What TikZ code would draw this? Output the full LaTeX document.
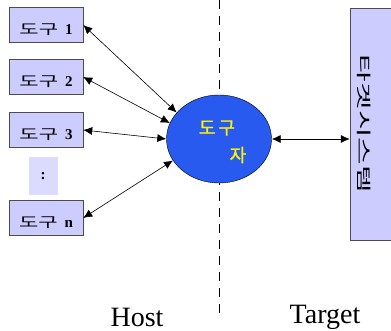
\documentclass[tikz,border=0pt]{standalone}
\usepackage{fontspec}
\usepackage{graphicx}
\setmainfont{Liberation Serif}
\newfontfamily\kor{Noto Sans CJK KR}
\newfontfamily\korbold{Noto Sans CJK KR}[FakeBold=1.2]
\usetikzlibrary{shapes.geometric,arrows.meta}

\definecolor{boxfill}{RGB}{204,204,255}
\definecolor{mgrblue}{RGB}{40,90,240}
\tikzset{
	toolbox/.style={draw=black!70,fill=boxfill,minimum width=74pt,minimum height=35pt,inner sep=0pt,text height=20pt,text depth=0pt},
	link/.style={{Latex[length=9pt,width=8pt]}-{Latex[length=9pt,width=8pt]},semithick}
}
\newcommand{\tooltxt}[1]{\scalebox{1.5}[1]{\kor\fontsize{14}{14}\selectfont 도구}\hspace{7pt}\textbf{\fontsize{15}{15}\selectfont\rmfamily #1}}

\begin{document}
\begin{tikzpicture}[x=1pt,y=-1pt]
		\useasboundingbox (0,0) rectangle (391,331);
		\draw [thick,dash pattern=on 9pt off 7pt] (219,0) -- (219,316);
		\node[toolbox] (t1) at (46,25) {\tooltxt{1}};
		\node[toolbox] (t2) at (46,77) {\tooltxt{2}};
		\node[toolbox] (t3) at (46,130) {\tooltxt{3}};
		\node[fill=boxfill!70,minimum width=29pt,minimum height=38pt,inner sep=0pt] (dots) at (43,176) {\textbf{\fontsize{15}{15}\selectfont :}};
		\node[toolbox] (tn) at (46,218) {\tooltxt{n}};
		\node[shape=ellipse,draw=black,fill=mgrblue,minimum width=105pt,minimum height=88pt,inner sep=0pt] (mgr) at (219,139) {};
		\node[text=yellow] (mgrtxt) at (217,128) {\korbold\fontsize{18}{18}\selectfont 도\,구};
		\node[text=yellow] (mgrtxt2) at (238,155) {\korbold\fontsize{18}{18}\selectfont 자};
		\node[draw=black!70,fill=boxfill,minimum width=42pt,minimum height=232pt,inner sep=0pt] (tgt) at (371,124) {};
		\node[rotate=-90] (tgttxt) at (364,124) {\scalebox{2}[1]{\kor\fontsize{15}{15}\selectfont 타겟시스템}};
		\draw [link] (t1.east) -- (mgr.148);
		\draw [link] (t2.east) -- (mgr.162);
		\draw [link] (t3.east) -- (mgr.west);
		\draw [link] (tn.east) -- (mgr.205);
		\draw [link] (mgr.east) -- (tgt.west |- mgr.east);
		\node (host) at (137,317) {\fontsize{28}{28}\selectfont Host};
		\node (target) at (325,317) {\fontsize{28}{28}\selectfont Target};
	\end{tikzpicture}
\end{document}
